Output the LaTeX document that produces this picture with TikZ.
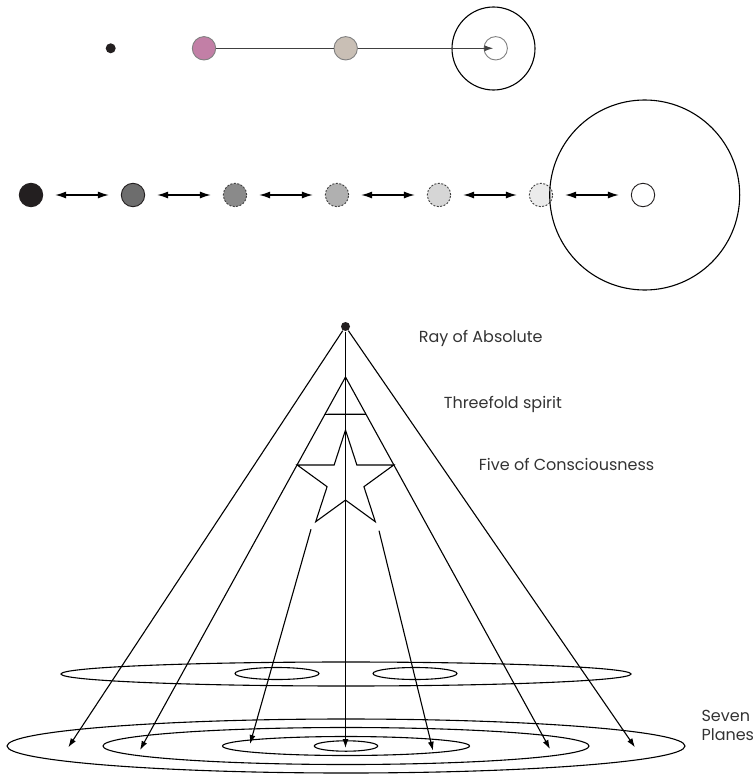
\documentclass[tikz,border=0pt]{standalone}
\usepackage[dvipsnames]{xcolor}
\usepackage{fontspec}
\setmainfont{Poppins}
\usepackage{tikz}
\usetikzlibrary{arrows.meta, shapes.geometric, calc}

\definecolor{ink}{HTML}{231F20}
\definecolor{mauve}{HTML}{C27FA6}
\definecolor{sand}{HTML}{C9BFB5}
\definecolor{tone1}{HTML}{6D6D6D}
\definecolor{tone2}{HTML}{8A8A8A}
\definecolor{tone3}{HTML}{B0B0B0}
\definecolor{tone4}{HTML}{D6D6D6}
\definecolor{tone5}{HTML}{EBEBEB}

\tikzset{
  ball/.style={circle, draw=ink, line width=0.9pt, minimum size=23.4pt, inner sep=0pt},
  faded/.style={dash pattern=on 2pt off 1.5pt, draw=black!75},
  pin/.style={circle, fill=ink, inner sep=0pt},
  tip/.style={-{Latex[length=9pt,width=6pt]}},
  dbl/.style={line width=1.2pt, arrows={Latex[length=11pt,width=7pt]-Latex[length=11pt,width=7pt]}, shorten <=12pt, shorten >=12pt},
  lbl/.style={font=\fontsize{16}{18.3}\selectfont, text=black!80, inner sep=0pt}
}

\begin{document}
\begin{tikzpicture}[x=1pt, y=-1pt, line width=1.1pt]
        \useasboundingbox (0,0) rectangle (753,776);
        % first row
        \node[pin, minimum size=10pt] (seed) at (110.7,48.3) {};
        \node[ball, draw=gray, fill=mauve] (soul) at (204,48.3) {};
        \node[ball, draw=gray, fill=sand] (path) at (345.7,48.3) {};
        \node[circle, draw, minimum size=83pt, inner sep=0pt] (orbit) at (493.5,48.5) {};
        \node[ball, draw=gray, fill=white] (goal) at (495.7,48.3) {};
        \draw[black!75] (soul) -- (path);
        \draw[black!75, tip, shorten >=2.3pt] (path) -- (goal.center);
        % second row
        \foreach \i/\c/\d in {0/ink/solid, 1/tone1/solid, 2/tone2/faded, 3/tone3/faded, 4/tone4/faded, 5/tone5/faded, 6/white/solid}
            \node[ball, fill=\c, \d] (s\i) at (31+102*\i,195) {};
        \foreach \i [count=\j from 1] in {0,...,5}
            \draw[dbl] (s\i) -- (s\j);
        \node[circle, draw, minimum size=190pt, inner sep=0pt] (realm) at (644.7,195) {};
        % planes
        \draw (346,674) ellipse [x radius=285, y radius=12];
        \draw (277,673.5) ellipse [x radius=42, y radius=6];
        \draw (415,673.5) ellipse [x radius=42, y radius=6];
        \foreach \rx/\ry in {339/27, 243/18.5, 123.5/9.5, 31.7/5.2}
            \draw (346,746) ellipse [x radius=\rx, y radius=\ry];
        % ray, threefold spirit and star
        \node[pin, minimum size=9pt] (ray) at (345.5,326.5) {};
        \coordinate (apex) at (345.5,377);
        \coordinate (outL) at (68.3,747.3);
        \coordinate (outR) at (635,747.3);
        \coordinate (inL) at (140,750);
        \coordinate (inR) at (550,749);
        \coordinate (mid) at (345.5,748);
        \coordinate (stL) at (311,529.3);
        \coordinate (stR) at (379,530.7);
        \coordinate (endL) at (250,744);
        \coordinate (endR) at (433,750.7);
        \node[star, star points=5, star point ratio=2.618, minimum size=101.4pt, inner sep=0pt, draw] (five) at (345.5,480.7) {};
        \draw[tip] (ray) -- (outL);
        \draw[tip] (ray) -- (outR);
        \draw[tip] (ray) -- (mid);
        \draw[tip] (apex) -- (inL);
        \draw[tip] (apex) -- (inR);
        \draw ($(apex)!0.1!(inL)$) -- ($(apex)!0.1!(inR)$);
        \draw[tip] (stL) -- (endL);
        \draw[tip] (stR) -- (endR);
        % labels
        \node[lbl, anchor=base west] (rayl) at (418.3,342.3) {Ray of Absolute};
        \node[lbl, anchor=base west] (threel) at (443.3,408.3) {Threefold spirit};
        \node[lbl, anchor=base west] (fivel) at (478.3,470) {Five of Consciousness};
        \node[lbl, anchor=base west, align=left] (planesl) at (701,740) {Seven\\Planes};
\end{tikzpicture}
\end{document}
